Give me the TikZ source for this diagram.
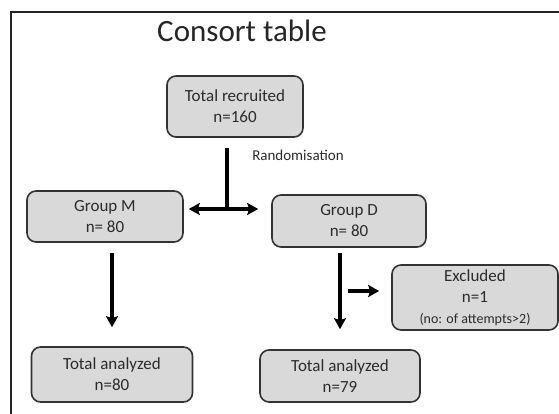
\documentclass[tikz,border=0pt]{standalone}
\usepackage{fontspec}
\setmainfont{Carlito}
\usetikzlibrary{arrows.meta}
\definecolor{boxfill}{HTML}{D9D9D9}
\definecolor{boxline}{HTML}{333333}
\definecolor{txt}{HTML}{2B2B2B}

\begin{document}
\begin{tikzpicture}[x=1pt,y=-1pt]
 \tikzstyle{every node}=[text=txt,align=center,font=\fontsize{17}{21}\selectfont]
 \tikzstyle{box}=[draw=boxline,fill=boxfill,line width=1.6pt,rounded corners=9pt,inner sep=0pt]
 \tikzstyle{arr}=[line width=3.2pt,-{Stealth[length=11pt,width=12pt,inset=2pt]}]
 \useasboundingbox (0,0) rectangle (559,414);
 \draw[line width=1.8pt,black!85] (11,414) -- (11,12) -- (559,12);
 \node[anchor=base,text=black!85,font=\fontsize{31}{36}\selectfont] (title) at (242,42) {Consort table};
 \path
 (235,106.5) node[box,minimum width=136pt,minimum height=61pt] (tr)  {Total recruited\\n=160}
 (105,216.5) node[box,minimum width=156pt,minimum height=51pt] (gm)  {Group M\\n= 80}
 (349,221)   node[box,minimum width=154pt,minimum height=52pt] (gd)  {Group D\\n= 80}
 (475,297.5) node[box,minimum width=166pt,minimum height=65pt] (ex)  {Excluded\\n=1\\{\fontsize{14}{16}\selectfont (no: of attempts>2)}}
 (112,374.5) node[box,minimum width=161pt,minimum height=55pt] (tam) {Total analyzed\\n=80}
 (340,376)   node[box,minimum width=160pt,minimum height=52pt] (tad) {Total analyzed\\n=79}
 ;
 \node[font=\fontsize{15}{18}\selectfont] (rand) at (298,155) {Randomisation};
 \coordinate (split) at (227,209);
 \coordinate (xs) at (348,291);
 \draw[line width=3.2pt,shorten <=10pt] (split |- tr.south) -- (split);
 \draw[arr,shorten >=5pt]  (split) -- (split -| gm.east);
 \draw[arr,shorten >=13pt] (split) -- (split -| gd.west);
 \draw[arr,shorten <=10pt,shorten >=19pt] (tam.north |- gm.south) -- (tam.north);
 \draw[arr,shorten <=5pt,shorten >=20pt]  (tad.north |- gd.south) -- (tad.north);
 \draw[arr,shorten >=12pt] (xs) -- (xs -| ex.west);
\end{tikzpicture}
\end{document}
